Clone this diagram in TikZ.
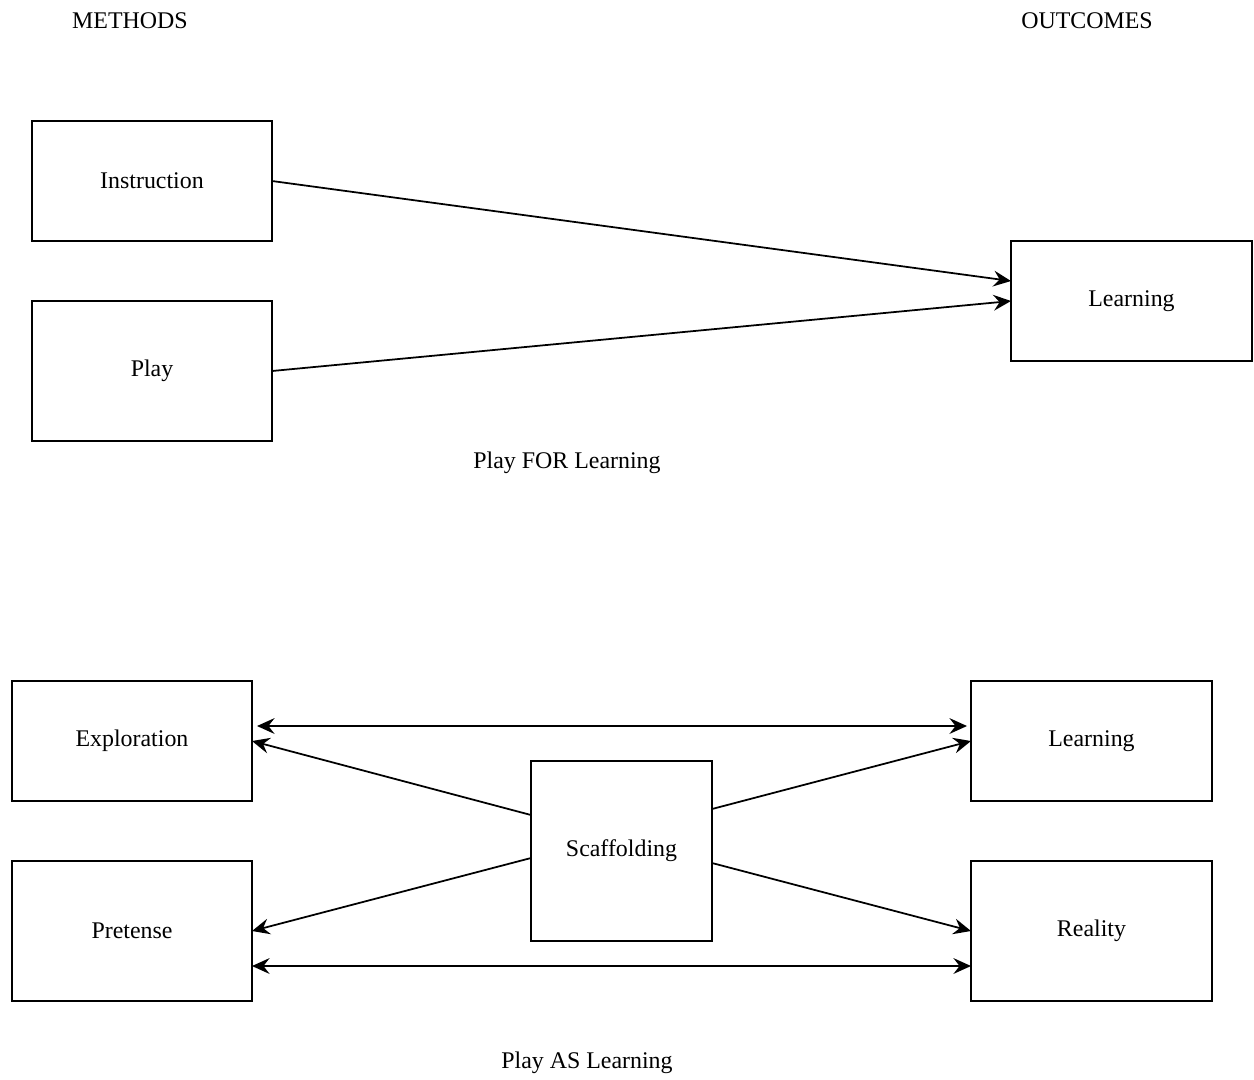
\documentclass[tikz,border=0pt]{standalone}
\usepackage{fontspec}
\setmainfont{Liberation Serif}
\usetikzlibrary{arrows.meta, calc}

\begin{document}
\begin{tikzpicture}[
    box/.style={draw, line width=0.9pt, inner sep=0pt, outer sep=0pt,
                align=center, font=\fontsize{13.6}{16}\selectfont,
                minimum width=4.8cm, minimum height=2.4cm},
    lbl/.style={font=\fontsize{13.6}{16}\selectfont},
    arrow/.style={-{Stealth[length=10pt, width=9pt, inset=3.5pt]}, line width=1pt},
    both/.style={{Stealth[length=10pt, width=9pt, inset=3.5pt]}-{Stealth[length=10pt, width=9pt, inset=3.5pt]}, line width=1pt},
]
\useasboundingbox (0, 0) rectangle (25.08, -21.58);

% column headings
\node[lbl] (methods) at (2.6, -0.42) {METHODS};
\node[lbl] (outcomes) at (21.74, -0.42) {OUTCOMES};

% Play FOR Learning
\node[box] (inst) at (3.04, -3.62) {Instruction};
\node[box, minimum height=2.8cm] (play) at (3.04, -7.42) {Play};
\node[box, minimum width=4.82cm] (learn) at (22.63, -6.02) {Learning};
\node[lbl] (forlbl) at (11.34, -9.26) {Play FOR Learning};

\draw[arrow] (inst.east) -- ([yshift=0.4cm]learn.west);
\draw[arrow] (play.east) -- (learn.west);

% Play AS Learning
\node[box] (expl) at (2.64, -14.82) {Exploration};
\node[box, minimum height=2.8cm] (pret) at (2.64, -18.62) {Pretense};
\node[box, minimum width=3.62cm, minimum height=3.6cm] (scaf) at (12.43, -17.02) {Scaffolding};
\node[box, minimum width=4.82cm] (learn2) at (21.83, -14.82) {Learning};
\node[box, minimum width=4.82cm, minimum height=2.8cm] (real) at (21.83, -18.62) {Reality};
\node[lbl] (aslbl) at (11.74, -21.26) {Play AS Learning};

\draw[both, shorten <=0.1cm, shorten >=0.08cm] ([yshift=0.3cm]expl.east) -- ([yshift=0.3cm]learn2.west);
\draw[both] ([yshift=-0.7cm]pret.east) -- ([yshift=-0.7cm]real.west);
\draw[arrow] ([yshift=0.72cm]scaf.west) -- (expl.east);
\draw[arrow] ([yshift=-0.14cm]scaf.west) -- (pret.east);
\draw[arrow] ([yshift=0.84cm]scaf.east) -- (learn2.west);
\draw[arrow] ([yshift=-0.24cm]scaf.east) -- (real.west);
\end{tikzpicture}
\end{document}
